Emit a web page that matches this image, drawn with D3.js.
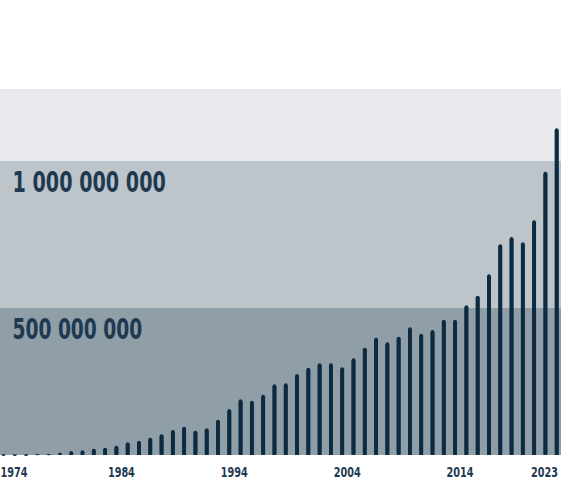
<!DOCTYPE html>
<html>
<head>
<meta charset="utf-8">
<script src="https://cdn.jsdelivr.net/npm/d3@7"></script>
<style>
  html, body { margin: 0; padding: 0; background: #fff; }
  svg { display: block; }
  .band-label { font-family: "DejaVu Sans Condensed", "DejaVu Sans", sans-serif; font-weight: bold; fill: #1f3a50; }
  .year { font-family: "DejaVu Sans Condensed", "DejaVu Sans", sans-serif; font-weight: bold; fill: #1f3a50; }
</style>
</head>
<body>
<svg id="chart"></svg>
<script>
let width = 561;
let height = 493;

let years = d3.range(1974, 2024);

// values (units)
let values = [
  1e6, 1e6, 1e6, 3.4e6, 3.4e6, 7.8e6, 13.6e6, 16e6, 21.4e6, 24.8e6,
  31.6e6, 43e6, 48.6e6, 58.8e6, 70.4e6, 85e6, 96.3e6, 82.6e6, 90.8e6, 120e6,
  156.4e6, 189.4e6, 184.7e6, 205e6, 240.4e6, 243.8e6, 275.5e6, 297e6, 311.9e6, 311.9e6,
  298.3e6, 328.9e6, 365e6, 399e6, 383.3e6, 402.3e6, 434.3e6, 412.5e6, 425.1e6, 460.2e6,
  460.2e6, 509e6, 541.8e6, 614.6e6, 716.6e6, 741.4e6, 723.4e6, 798.2e6, 963.5e6, 1111e6
];

let tickYears = [1974, 1984, 1994, 2004, 2014, 2023];

let bandEdges = [0, 5e8, 1e9, 1.245e9];
let bandColors = ['#8f9ea7', '#bdc5cb', '#e8eaed'];
let bandLabels = ['500 000 000', '1 000 000 000'];

let svg = d3.select('#chart')
  .attr('width', width)
  .attr('height', height);

let y = d3.scaleLinear()
  .domain([0, 5e8])
  .range([455, 308]);

let x = d3.scalePoint()
  .domain(years)
  .range([3.5, 556.7]);

// squeeze a text horizontally so it spans `w` pixels from `left`
function squeeze(text, left, base, w) {
  let len = text.node().getComputedTextLength();
  let sx = w / len;
  text.attr('x', 0).attr('y', 0)
    .attr('transform', `translate(${left},${base}) scale(${sx},1)`);
}

// background bands
for (let i = 0; i < bandColors.length; i++) {
  svg.append('rect')
    .attr('x', 0)
    .attr('y', y(bandEdges[i + 1]))
    .attr('width', width)
    .attr('height', y(bandEdges[i]) - y(bandEdges[i + 1]))
    .attr('fill', bandColors[i]);
}

// band labels
bandLabels.forEach((t, i) => {
  let txt = svg.append('text')
    .attr('class', 'band-label')
    .style('font-size', '28.5px')
    .text(t);
  squeeze(txt, 12.5, y(bandEdges[i + 1]) + 30.5, t.length * 11.8);
});

let barWidth = 3.8;

svg.selectAll('.bar')
  .data(years)
  .enter()
  .append('rect')
  .attr('class', 'bar')
  .attr('x', (d) => x(d) - barWidth / 2)
  .attr('y', (d, i) => y(values[i]))
  .attr('width', barWidth)
  .attr('height', (d, i) => Math.max(1.2, y(0) - y(values[i])))
  .attr('rx', barWidth / 2)
  .attr('fill', '#0c2a40');

// cover rounded bottoms so bars sit flat on the base
svg.selectAll('.bar-base')
  .data(years)
  .enter()
  .append('rect')
  .attr('x', (d) => x(d) - barWidth / 2)
  .attr('y', (d, i) => Math.min(y(values[i]) + barWidth / 2, y(0) - 0.6))
  .attr('width', barWidth)
  .attr('height', (d, i) => Math.max(0.6, y(0) - Math.min(y(values[i]) + barWidth / 2, y(0) - 0.6)))
  .attr('fill', '#0c2a40');

// year labels
tickYears.forEach((d, i) => {
  let left;
  if (i === 0) left = 0.5;
  else if (i === tickYears.length - 1) left = 531;
  else left = x(d) + 5 - 13.5;

  let txt = svg.append('text')
    .attr('class', 'year')
    .style('font-size', '13.5px')
    .text(d);
  squeeze(txt, left, 477, 27);
});
</script>
</body>
</html>
